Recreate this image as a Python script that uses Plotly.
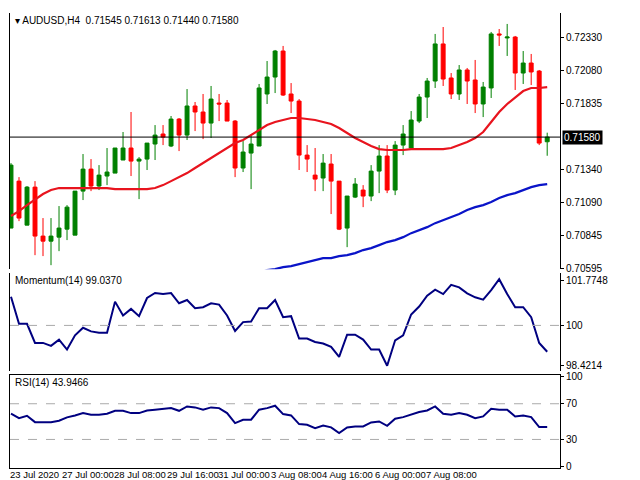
import plotly.graph_objects as go

opens = [70898,71250,70920,71205,70838,70800,70830,70890,70845,71175,71340,71213,71288,71310,71408,71498,71400,71415,71528,71603,
         71513,71715,71595,71813,71768,71685,71835,71835,71700,71348,71460,71513,71903,72030,72225,71903,71850,71445,71295,71273,
         71378,71250,70898,71130,71183,71138,71325,71438,71183,71520,71498,71700,71880,72000,72278,72023,71903,72083,72008,71828,
         71948,72353,72323,72330,72060,72135,72075,71545]
closes = [71370,70973,71205,70838,70800,70838,70898,71055,71175,71340,71213,71295,71318,71498,71498,71400,71415,71535,71595,71580,
          71715,71595,71813,71768,71685,71865,71828,71700,71348,71468,71528,71948,72030,72225,71895,71850,71445,71415,71265,71385,
          71250,70890,71138,71228,71138,71325,71438,71183,71520,71603,71708,71880,72000,72278,72015,71903,72083,72000,71828,71955,
          72353,72345,72330,72060,72135,72068,71535,71580]
highs = [71385,71280,71213,71250,70973,70973,71063,71070,71175,71453,71415,71370,71498,71498,71618,71768,71430,71535,71670,71670,
         71738,71723,71940,71843,71903,71963,71903,71858,71708,71550,71588,71978,72150,72233,72263,71985,71865,71520,71498,71453,
         71453,71250,71138,71273,71220,71370,71520,71520,71550,71670,71775,71903,72023,72353,72405,72060,72120,72098,72158,71993,
         72368,72390,72428,72338,72225,72203,72083,71613]
lows = [70898,70950,70920,70695,70688,70620,70725,70808,70845,71108,71175,71183,71220,71310,71408,71288,71115,71333,71408,71520,
        71505,71475,71558,71625,71565,71573,71700,71700,71280,71318,71190,71513,71828,71910,71888,71760,71333,71318,71175,71175,
        71003,70883,70755,71123,71055,71100,71160,71160,71145,71445,71498,71685,71723,71948,71963,71865,71858,71828,71760,71730,
        71873,72263,72188,71933,71978,71970,71520,71440]
ma_red = [70988,71025,71070,71115,71153,71183,71198,71198,71198,71198,71198,71198,71198,71190,71190,71190,71190,71190,71198,
          71220,71250,71280,71310,71348,71385,71423,71460,71498,71535,71558,71595,71633,71670,71693,71708,71723,71723,71715,71708,
          71693,71678,71648,71610,71573,71543,71513,71490,71483,71483,71483,71490,71490,71490,71490,71490,71498,71520,71543,71573,
          71618,71693,71768,71828,71880,71925,71948,71948,71955]
ma_blue = [None]*31 + [70560,70583,70590,70605,70613,70628,70643,70658,70673,70673,70688,70695,70710,70733,70748,70770,70793,
                       70808,70830,70860,70883,70905,70935,70958,70980,71003,71033,71055,71070,71093,71123,71145,71160,71183,
                       71205,71220,71228]
momentum = [101.144,100.066,100.066,99.303,99.303,99.185,99.435,99.040,99.605,99.908,99.763,99.711,99.711,100.947,100.395,
            100.658,100.368,101.091,101.289,101.249,101.289,100.881,101.013,100.684,100.723,100.881,100.828,100.395,99.776,
            100.132,100.158,100.684,100.684,101.013,100.329,100.368,99.474,99.474,99.343,99.277,99.145,98.751,99.632,99.632,
            99.435,99.040,99.040,98.396,99.408,99.605,100.434,100.750,101.184,101.420,101.249,101.617,101.512,101.276,101.118,
            101.026,101.407,101.841,101.249,100.723,100.723,100.329,99.303,98.95]
rsi = [58.8,53.9,56.5,49.4,49.4,49.4,50.9,54.7,56.9,59.5,57.7,57.7,58.8,62.1,62.1,59.5,59.5,62.5,63.3,64.0,65.1,62.1,67.0,
       65.9,63.3,65.9,65.1,59.5,48.3,52.1,52.1,63.3,65.1,67.8,58.4,56.9,47.2,46.4,42.7,45.7,43.5,37.1,43.5,44.6,44.6,49.1,
       50.2,45.3,53.2,55.0,57.7,60.7,62.5,67.0,58.8,57.7,59.5,57.7,53.9,55.8,64.4,63.3,63.3,55.8,56.9,55.0,43.8,43.8]
time_labels = ["23 Jul 2020","27 Jul 00:00","28 Jul 08:00","29 Jul 16:00","31 Jul 00:00",
               "3 Aug 08:00","4 Aug 16:00","6 Aug 00:00","7 Aug 08:00"]
label_pos = [0, 6.5, 13, 19.6, 26, 32.6, 39, 45.6, 52]
price_ticks = [0.72330,0.72080,0.71835,0.71340,0.71090,0.70845,0.70595]

sc = 1e-5
x = list(range(len(opens)))
fig = go.Figure()
fig.add_trace(go.Candlestick(x=x, open=[v*sc for v in opens], high=[v*sc for v in highs],
                             low=[v*sc for v in lows], close=[v*sc for v in closes],
                             increasing=dict(line=dict(color="#008000", width=1), fillcolor="#008000"),
                             decreasing=dict(line=dict(color="#ff0000", width=1), fillcolor="#ff0000"),
                             whiskerwidth=0, xaxis="x", yaxis="y"))
fig.add_trace(go.Scatter(x=x, y=[v*sc for v in ma_red], mode="lines", line=dict(color="#e8141e", width=2.2), xaxis="x", yaxis="y"))
fig.add_trace(go.Scatter(x=x, y=[None if v is None else v*sc for v in ma_blue], mode="lines",
                         line=dict(color="#0a14c8", width=2.2), xaxis="x", yaxis="y"))
fig.add_trace(go.Scatter(x=x, y=momentum, mode="lines", line=dict(color="#000080", width=2), xaxis="x", yaxis="y2"))
fig.add_trace(go.Scatter(x=x, y=rsi, mode="lines", line=dict(color="#000080", width=2), xaxis="x", yaxis="y3"))

last = closes[-1]*sc
xr = [-0.125, 68.6]
f = dict(family="Liberation Sans", size=10, color="black")
ax = dict(showline=True, linecolor="black", linewidth=1, mirror=True, showgrid=False, zeroline=False,
          side="right", ticks="outside", ticklen=3, tickcolor="black", automargin=False, tickfont=f)
fig.update_layout(
    width=640, height=480, margin=dict(l=2, r=88, t=5, b=20, autoexpand=False),
    paper_bgcolor="white", plot_bgcolor="white", showlegend=False,
    xaxis=dict(range=xr, showline=True, linecolor="black", mirror=True, showgrid=False, showticklabels=False,
               rangeslider=dict(visible=False), anchor="y3", zeroline=False, automargin=False),
    yaxis=dict(ax, domain=[0.437, 1], range=[0.70590, 0.72510], tickvals=price_ticks, tickformat=".5f"),
    yaxis2=dict(ax, domain=[0.213, 0.429], range=[98.182, 102.094], tickvals=[98.4214, 100, 101.7748],
                ticktext=["98.4214", "100", "101.7748"]),
    yaxis3=dict(ax, domain=[0, 0.204], range=[-2, 102], tickvals=[0, 30, 70, 100]),
)
fig.add_shape(type="line", xref="x", yref="y", x0=xr[0], x1=xr[1], y0=last, y1=last, line=dict(color="black", width=1))
fig.add_shape(type="line", xref="x", yref="y2", x0=xr[0], x1=xr[1], y0=100, y1=100, line=dict(color="#aaaaaa", width=1, dash="dash"))
for lv in [30, 70]:
    fig.add_shape(type="line", xref="x", yref="y3", x0=xr[0], x1=xr[1], y0=lv, y1=lv, line=dict(color="#aaaaaa", width=1, dash="dash"))
fig.add_annotation(xref="paper", yref="y", x=1.0, y=last, xanchor="left", xshift=2, text="0.71580", showarrow=False,
                   bgcolor="black", font=dict(family="Liberation Sans", size=10, color="white"), borderpad=1)
fig.add_annotation(xref="paper", yref="paper", x=0.005, y=1.0, xanchor="left", yanchor="top", showarrow=False,
                   text="▾ AUDUSD,H4  0.71545 0.71613 0.71440 0.71580", font=f)
fig.add_annotation(xref="paper", yref="paper", x=0.005, y=0.429, xanchor="left", yanchor="top", showarrow=False,
                   text="Momentum(14) 99.0370", font=f)
fig.add_annotation(xref="paper", yref="paper", x=0.005, y=0.204, xanchor="left", yanchor="top", showarrow=False,
                   text="RSI(14) 43.9466", font=f)
for p, t in zip(label_pos, time_labels):
    fig.add_annotation(xref="x", yref="paper", x=p, y=0, xanchor="left", yanchor="top", xshift=-2, showarrow=False,
                       text=t, font=dict(family="Liberation Sans", size=9.5, color="black"), borderpad=0)
fig.write_html("out.html")
